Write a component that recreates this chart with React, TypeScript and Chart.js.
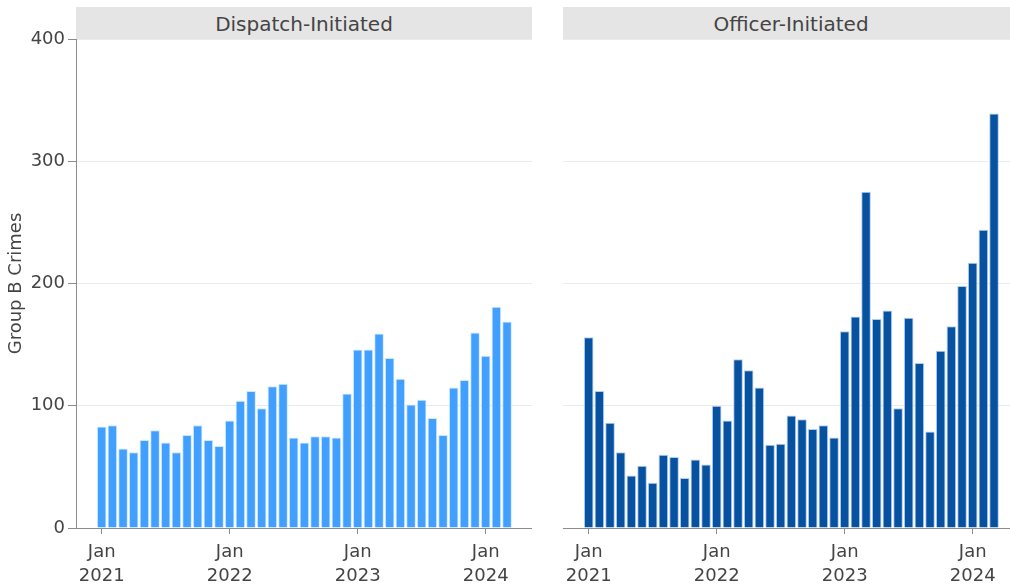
import React, { useEffect, useRef } from "react";
import { Chart, registerables } from "chart.js";

Chart.register(...registerables);

// ---- Data ----
const months: string[] = [
  "2021-01", "2021-02", "2021-03", "2021-04", "2021-05", "2021-06",
  "2021-07", "2021-08", "2021-09", "2021-10", "2021-11", "2021-12",
  "2022-01", "2022-02", "2022-03", "2022-04", "2022-05", "2022-06",
  "2022-07", "2022-08", "2022-09", "2022-10", "2022-11", "2022-12",
  "2023-01", "2023-02", "2023-03", "2023-04", "2023-05", "2023-06",
  "2023-07", "2023-08", "2023-09", "2023-10", "2023-11", "2023-12",
  "2024-01", "2024-02", "2024-03",
];

const dispatchValues: number[] = [
  83, 84, 65, 62, 72, 80, 70, 62, 76, 84, 72, 67,
  88, 104, 112, 98, 116, 118, 74, 70, 75, 75, 74, 110,
  146, 146, 159, 139, 122, 101, 105, 90, 76, 115, 121, 160,
  141, 181, 169,
];

const officerValues: number[] = [
  156, 112, 86, 62, 43, 51, 37, 60, 58, 41, 56, 52,
  100, 88, 138, 129, 115, 68, 69, 92, 89, 81, 84, 74,
  161, 173, 275, 171, 178, 98, 172, 135, 79, 145, 165, 198,
  217, 244, 339,
];

const tickMonths: string[] = ["2021-01", "2022-01", "2023-01", "2024-01"];
const tickLabels: string[][] = [
  ["Jan", "2021"],
  ["Jan", "2022"],
  ["Jan", "2023"],
  ["Jan", "2024"],
];

const panelTitles: string[] = ["Dispatch-Initiated", "Officer-Initiated"];
const yTitle = "Group B Crimes";

// ---- helpers ----
const monthPos = (m: string): number => {
  const [y, mo] = m.split("-").map(Number);
  return (y - 2021) * 12 + (mo - 1);
};
const X_MIN = -2.41;
const X_MAX = 40.34;

const FONT = "'DejaVu Sans', Verdana, sans-serif";
const TEXT = "#444444";
const AXIS = "#8c8c8c";
const GRID = "#ebebeb";

Chart.defaults.font.family = FONT;

type PanelProps = {
  values: number[];
  color: string;
  edge: string;
  showY: boolean;
  left: number;
  width: number;
  title: string;
};

function Panel({ values, color, edge, showY, left, width, title }: PanelProps) {
  const ref = useRef<HTMLCanvasElement>(null);
  useEffect(() => {
    if (!ref.current) return;
    const tickPos = tickMonths.map(monthPos);
    const chart = new Chart(ref.current, {
      type: "bar",
      data: {
        datasets: [
          {
            data: months.map((m, i) => ({ x: monthPos(m), y: values[i] })),
            backgroundColor: color,
            borderColor: edge,
            borderWidth: 1,
            barPercentage: 0.9,
            categoryPercentage: 1,
          } as any,
        ],
      },
      options: {
        animation: false,
        responsive: false,
        maintainAspectRatio: false,
        layout: { padding: { top: 39, left: 0, right: 0, bottom: 0 } },
        plugins: {
          legend: { display: false },
          tooltip: { enabled: false },
          title: { display: false },
        },
        scales: {
          x: {
            type: "linear",
            min: X_MIN,
            max: X_MAX,
            offset: false,
            afterBuildTicks: (s: any) => {
              s.ticks = tickPos.map((v) => ({ value: v }));
            },
            afterFit: (s: any) => {
              s.height = 60;
              s.paddingLeft = 0;
              s.paddingRight = 0;
            },
            ticks: {
              autoSkip: false,
              maxRotation: 0,
              minRotation: 0,
              color: TEXT,
              font: { size: 18, lineHeight: 1.35 },
              padding: 6,
              callback: (v: any) => {
                const idx = tickPos.indexOf(Number(v));
                return idx >= 0 ? tickLabels[idx] : "";
              },
            },
            grid: {
              offset: false,
              drawOnChartArea: false,
              drawTicks: true,
              tickLength: 6,
              tickColor: AXIS,
            },
            border: { display: true, color: AXIS, width: 1 },
          } as any,
          y: {
            min: 0,
            max: 400,
            afterFit: (s: any) => {
              s.width = showY ? 76 : 0;
            },
            ticks: {
              display: showY,
              stepSize: 100,
              color: TEXT,
              font: { size: 18 },
              padding: 3,
            },
            grid: {
              color: (ctx: any) => (ctx.tick && ctx.tick.value === 0 ? "rgba(0,0,0,0)" : GRID),
              drawTicks: showY,
              tickLength: 8,
              tickColor: AXIS,
            },
            border: { display: showY, color: AXIS, width: 1 },
            title: {
              display: showY,
              text: yTitle,
              color: TEXT,
              font: { size: 18 },
              padding: { top: 6, bottom: 0 },
            },
          } as any,
        },
      },
    });
    return () => chart.destroy();
  }, [values, color, edge, showY]);

  return (
    <div style={{ position: "absolute", left, top: 0, width, height: 588 }}>
      <canvas ref={ref} width={width} height={588} style={{ display: "block" }} />
      <div
        style={{
          position: "absolute",
          left: showY ? 76 : 0,
          top: 7,
          width: 456,
          height: 32,
          background: "#e5e5e5",
          color: TEXT,
          fontFamily: FONT,
          fontSize: 20,
          lineHeight: "34px",
          textAlign: "center",
        }}
      >
        {title}
      </div>
    </div>
  );
}

export default function App() {
  return (
    <div
      style={{
        position: "fixed",
        left: 0,
        top: 0,
        width: 1010,
        height: 588,
        overflow: "hidden",
        background: "#ffffff",
      }}
    >
      <Panel
        values={dispatchValues}
        color="#409fff"
        edge="rgba(200,228,255,0.9)"
        showY={true}
        left={0}
        width={532}
        title={panelTitles[0]}
      />
      <Panel
        values={officerValues}
        color="#0652a1"
        edge="rgba(170,200,235,0.9)"
        showY={false}
        left={563}
        width={456}
        title={panelTitles[1]}
      />
    </div>
  );
}
